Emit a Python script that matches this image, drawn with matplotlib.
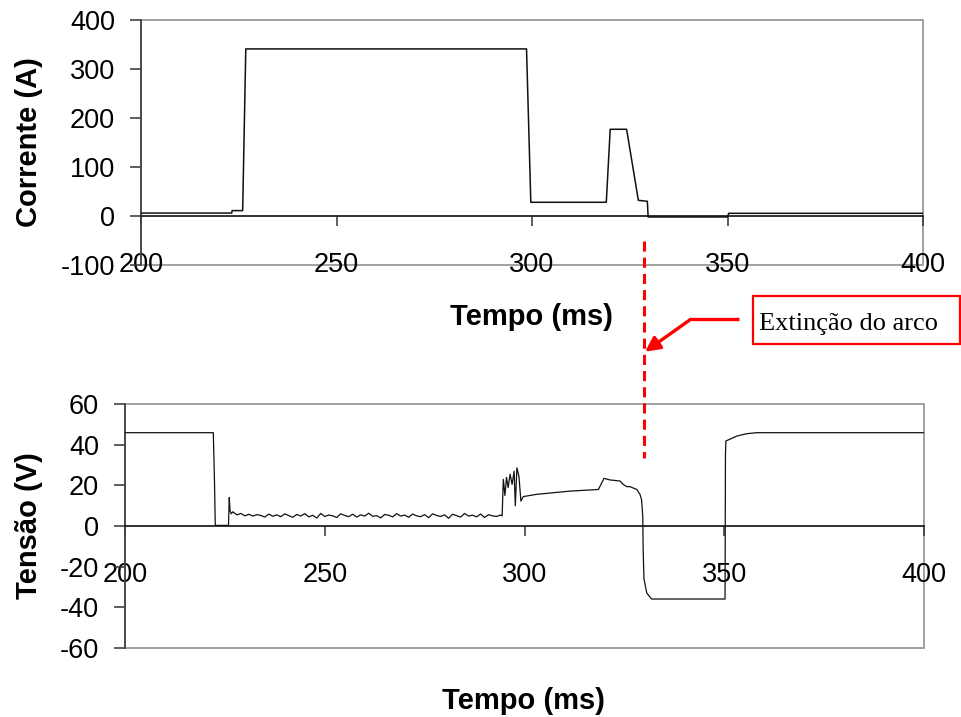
import matplotlib
matplotlib.use('Agg')
import matplotlib.pyplot as plt
from matplotlib.patches import Rectangle, FancyArrowPatch
from matplotlib.lines import Line2D

plt.rcParams['font.family'] = ['Liberation Sans', 'DejaVu Sans']

# ---------------- data ----------------
x_ticks = [200, 250, 300, 350, 400]
cur_yticks = [-100, 0, 100, 200, 300, 400]
ten_yticks = [-60, -40, -20, 0, 20, 40, 60]

# current (A) vs time (ms)
cur_t = [200.0, 223.2, 223.3, 226.0, 226.8, 298.6, 299.7, 319.0, 320.0,
         324.2, 327.2, 329.5, 329.7, 350.0, 350.3, 400.0]
cur_i = [6, 6, 11, 11, 341, 341, 28, 28, 177,
         177, 32, 30, -2, -2, 5.5, 5.5]

# voltage (V) vs time (ms): open circuit, short, arc start
ten_t_start = [200.0, 222.1, 222.4, 222.6, 225.9, 226.1, 226.3, 226.6]
ten_v_start = [46, 46, 22, 0.3, 0.3, 14, 7.5, 6]

# noisy arc-voltage plateau
ten_t_noise = [227, 228, 229, 230, 231, 232, 233, 234, 235, 236, 237, 238,
               239, 240, 241, 242, 243, 244, 245, 246, 247, 248, 249, 250,
               251, 252, 253, 254, 255, 256, 257, 258, 259, 260, 261, 262,
               263, 264, 265, 266, 267, 268, 269, 270, 271, 272, 273, 274,
               275, 276, 277, 278, 279, 280, 281, 282, 283, 284, 285, 286,
               287, 288, 289, 290, 291, 292, 293, 294]
ten_v_noise = [7.0, 5.5, 6.2, 5.0, 5.8, 4.9, 5.6, 5.2, 4.4, 5.9, 4.8, 5.5,
               4.6, 6.0, 5.1, 4.3, 5.7, 4.9, 6.1, 4.5, 5.3, 3.9, 6.2, 4.7,
               5.4, 5.0, 4.2, 6.0, 5.2, 4.6, 5.8, 4.4, 5.5, 4.9, 6.3, 4.8,
               5.1, 4.0, 5.7, 5.3, 4.5, 6.1, 4.9, 5.4, 4.3, 5.9, 5.0, 4.6,
               5.6, 4.1, 6.0, 5.2, 4.7, 5.5, 3.8, 5.8, 5.1, 4.4, 6.2, 4.9,
               5.3, 4.5, 5.9, 4.2, 5.6, 5.0, 4.7, 5.4]

# spikes, second plateau, extinction, reverse, recovery
ten_t_end = [294.4, 294.7, 295.1, 295.5, 295.9, 296.4, 296.9, 297.4, 297.7,
             298.1, 298.6, 299.1, 299.7, 303.0, 311.4, 318.5, 319.9, 321.4,
             323.9, 324.7, 325.6, 326.4, 328.1, 328.9, 329.3, 329.6, 329.7,
             329.9, 330.6, 331.8, 350.2, 350.3, 350.4, 353.1, 355.6, 358.1,
             400.0]
ten_v_end = [5, 23, 15, 24, 19, 25.5, 20.5, 27, 10,
             28.7, 24.6, 12.3, 14.5, 15.6, 17.2, 18, 23.5, 22.7,
             22.2, 20.5, 19.4, 19.4, 18, 15.6, 13, 5, -11.5,
             -26, -33, -36, -36, 34.5, 41.9, 44.3, 45.5, 46,
             46]

ten_t = ten_t_start + ten_t_noise + ten_t_end
ten_v = ten_v_start + ten_v_noise + ten_v_end

# ---------------- figure ----------------
W, H = 961, 717
fig = plt.figure(figsize=(W / 100, H / 100), dpi=100)
fig.patch.set_facecolor('white')

ax1 = fig.add_axes([141 / W, 1 - 265 / H, 782 / W, 245 / H])
ax2 = fig.add_axes([125 / W, 1 - 647.7 / H, 799 / W, 243.4 / H])

TICK_FS = 19.5
LABEL_FS = 21


def style(ax, ylim, yticks):
    ax.set_xlim(200, 400)
    ax.set_ylim(*ylim)
    ax.set_xticks(x_ticks)
    ax.set_xticklabels([str(v) for v in x_ticks])
    ax.set_yticks(yticks)
    ax.set_yticklabels([str(v) for v in yticks])
    for s in ['top', 'right']:
        ax.spines[s].set_visible(False)
    ax.spines['bottom'].set_position(('data', 0))
    ax.spines['bottom'].set_color('#222222')
    ax.spines['bottom'].set_linewidth(1.3)
    ax.spines['left'].set_color('#444444')
    ax.spines['left'].set_linewidth(1.3)
    ax.add_patch(Rectangle((0, 0), 1, 1, transform=ax.transAxes, fill=False,
                           ec='#9a9a9a', lw=1.3, clip_on=False, zorder=0))
    ax.tick_params(axis='x', direction='out', length=7.2, width=1.1,
                   color='#333333', labelcolor='black', labelsize=TICK_FS, pad=19)
    ax.tick_params(axis='y', direction='out', length=8, width=1.1,
                   color='#333333', labelcolor='black', labelsize=TICK_FS, pad=10.8)


style(ax1, (-100, 400), cur_yticks)
style(ax2, (-60, 60), ten_yticks)

ax1.plot(cur_t, cur_i, color='#111111', lw=1.1, zorder=3)
ax2.plot(ten_t, ten_v, color='#111111', lw=0.9, zorder=3)

ax1.set_ylabel('Corrente (A)', fontsize=LABEL_FS, fontweight='bold')
ax1.yaxis.set_label_coords((43 - 141) / 782, 0.5)
ax1.set_xlabel('Tempo (ms)', fontsize=LABEL_FS, fontweight='bold')
ax1.xaxis.set_label_coords(0.5, (265 - 303) / 245)

ax2.set_ylabel('Tensão (V)', fontsize=LABEL_FS, fontweight='bold')
ax2.yaxis.set_label_coords((43 - 125) / 799, 0.5)
ax2.set_xlabel('Tempo (ms)', fontsize=LABEL_FS, fontweight='bold')
ax2.xaxis.set_label_coords((523.7 - 125) / 799, (647.7 - 687) / 243.4)


def fp(x, y):
    """image pixel -> figure fraction"""
    return x / W, 1 - y / H


# red dashed extinction marker
(x0, y0), (x1, y1) = fp(644, 241), fp(644, 458)
fig.add_artist(Line2D([x0, x1], [y0, y1], transform=fig.transFigure,
                      color='#ff0000', lw=2.2, linestyle=(0, (3.3, 2.0)), zorder=10))

# annotation box
bx0, by0 = fp(753.3, 344.3)
bx1, by1 = fp(959.5, 295.7)
fig.add_artist(Rectangle((bx0, by0), bx1 - bx0, by1 - by0, transform=fig.transFigure,
                         fill=False, ec='#ff0000', lw=1.6, zorder=10))
tx, ty = fp(759, 330)
fig.text(tx, ty, 'Extinção do arco', family=['Liberation Serif', 'DejaVu Serif'],
         fontsize=19, ha='left', va='baseline', color='black', zorder=11)

# arrow
(ax_a, ay_a), (ax_b, ay_b) = fp(739.3, 319.3), fp(690.7, 319.3)
fig.add_artist(Line2D([ax_a, ax_b], [ay_a, ay_b], transform=fig.transFigure,
                      color='#ff0000', lw=2.4, solid_capstyle='butt', zorder=10))
tip = fp(645, 351.7)
fig.add_artist(FancyArrowPatch((ax_b, ay_b), tip, transform=fig.transFigure,
                               arrowstyle='-|>', mutation_scale=22, color='#ff0000',
                               lw=2.4, shrinkA=0, shrinkB=0, zorder=10))

fig.savefig('out.png', dpi=100, facecolor='white')
